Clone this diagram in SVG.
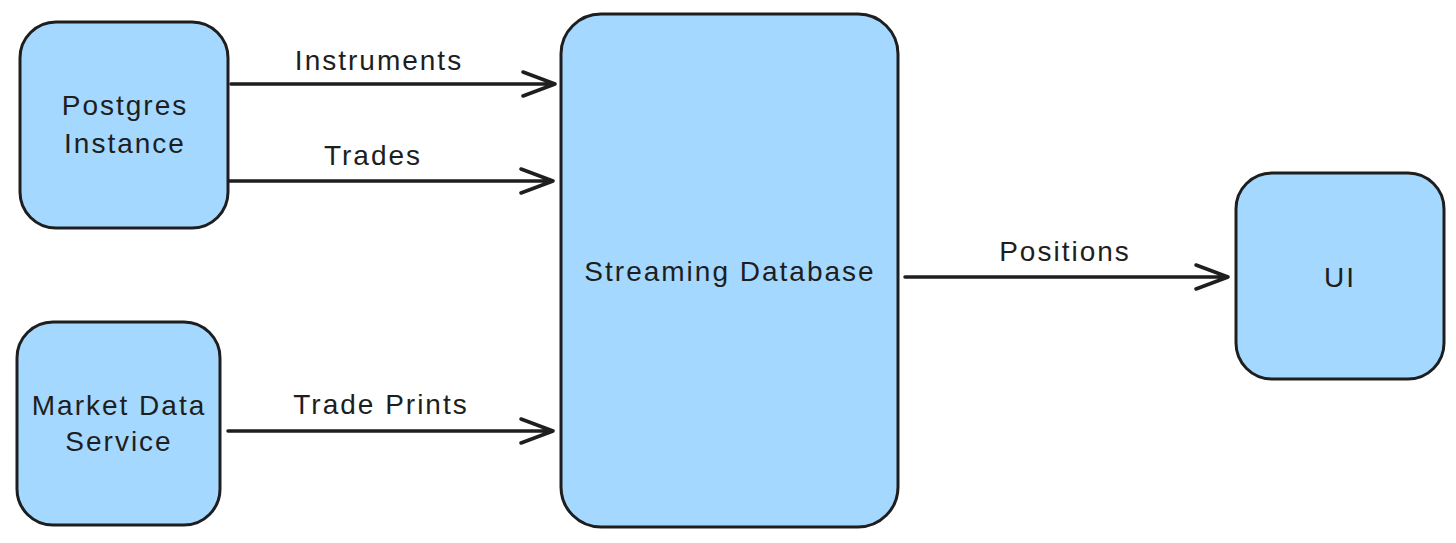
<svg xmlns="http://www.w3.org/2000/svg" width="1456" height="543" viewBox="0 0 1456 543">
<style>
.box{fill:#a5d8ff;stroke:#1e1e1e;stroke-width:3}
.lbl{font-family:"Liberation Sans",Arial,sans-serif;font-size:28px;letter-spacing:2px;fill:#1e1e1e;text-anchor:middle}
.edge{fill:none;stroke:#1e1e1e;stroke-width:3.5;stroke-linecap:round;stroke-linejoin:round}
</style>
<rect width="1456" height="543" fill="#ffffff"/>
<g id="postgres">
<rect class="box" x="20" y="22" width="208" height="206" rx="36"/>
<text class="lbl" x="125" y="115">Postgres</text>
<text class="lbl" x="125" y="153">Instance</text>
</g>
<g id="market">
<rect class="box" x="17" y="322" width="203" height="203" rx="36"/>
<text class="lbl" x="119" y="415">Market Data</text>
<text class="lbl" x="119" y="451">Service</text>
</g>
<g id="streamdb">
<rect class="box" x="561" y="14" width="337" height="513" rx="40"/>
<text class="lbl" x="730" y="281">Streaming Database</text>
</g>
<g id="ui">
<rect class="box" x="1236" y="173" width="208" height="206" rx="36"/>
<text class="lbl" x="1340" y="287">UI</text>
</g>
<g id="connectors">
<path class="edge" d="M231 84 L555 84 M523 72 L555 84 L523 96"/>
<text class="lbl" x="379" y="70">Instruments</text>
<path class="edge" d="M229 181 L553 181 M521 169 L553 181 L521 193"/>
<text class="lbl" x="373" y="165">Trades</text>
<path class="edge" d="M228 431 L553 431 M521 419 L553 431 L521 443"/>
<text class="lbl" x="381" y="414">Trade Prints</text>
<path class="edge" d="M905 277 L1228 277 M1196 265 L1228 277 L1196 289"/>
<text class="lbl" x="1065" y="261">Positions</text>
</g>
</svg>
